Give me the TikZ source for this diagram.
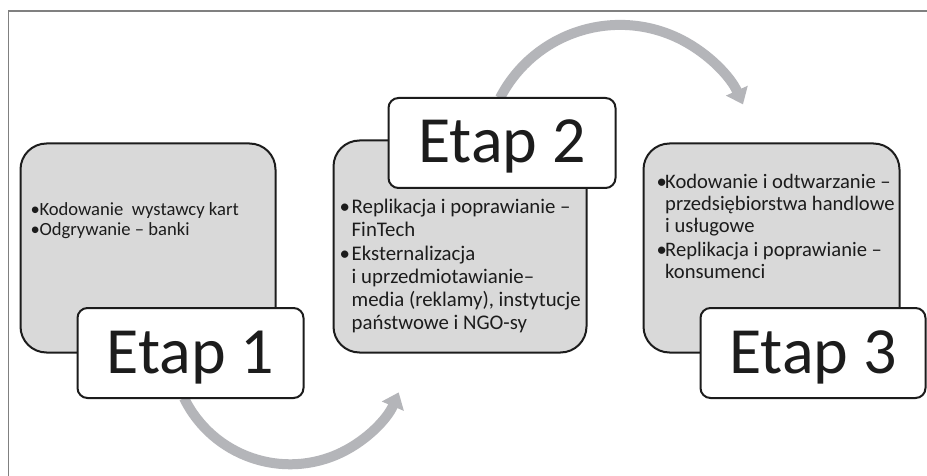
\documentclass[tikz,border=0pt]{standalone}
\usepackage{fontspec}
\setmainfont{Carlito}
\usetikzlibrary{arrows.meta}
\definecolor{boxgray}{RGB}{217,217,217}
\definecolor{arrgray}{RGB}{180,181,185}
\definecolor{framegray}{RGB}{128,128,128}
\definecolor{ink}{RGB}{28,28,28}
\newlength\bulw
\newcommand\bitem[1]{\par\hangindent=\bulw\hangafter=1\noindent\makebox[\bulw][l]{•}#1}
\newcommand\bullblock[4]{\begin{minipage}[t]{260pt}\fontsize{#1}{#2}\selectfont\raggedright\setlength\parskip{#3}\setlength\bulw{#4}}
\begin{document}
\begin{tikzpicture}[x=1pt,y=1pt,
  graybox/.style={draw=ink, line width=2pt, fill=boxgray, rounded corners=26pt, inner sep=0pt},
  etapbox/.style={draw=ink, line width=2pt, fill=white, rounded corners=10pt, inner sep=0pt,
    minimum height=90pt, text=ink, font=\fontsize{66}{70}\selectfont, text height=48pt, text depth=8pt},
  bullettext/.style={anchor=base west, inner sep=0pt, text=ink},
  arrowline/.style={arrgray, line width=10pt, -{Triangle[width=23pt,length=15pt]}}]
\useasboundingbox (0,0) rectangle (927,-476);
\fill[white] (0,0) rectangle (927,-476);
% frame
\draw[framegray, line width=1.5pt] (8.5,-476) -- (8.5,-11) -- (927,-11);
% arrows
\coordinate (a1s) at (184,-398);
\draw[arrowline] (a1s) arc[start angle=-154, end angle=-23, radius=118];
\coordinate (a2s) at (500,-98);
\draw[arrowline] (a2s) arc[start angle=152.7, end angle=24.3, radius=135];
% gray boxes
\node[graybox, minimum width=255pt, minimum height=209pt] (g1) at (148,-248) {};
\node[graybox, minimum width=253pt, minimum height=212pt] (g2) at (460,-246.5) {};
\node[graybox, minimum width=256pt, minimum height=209pt] (g3) at (771.5,-248) {};
% stage boxes
\node[etapbox, minimum width=226pt] (e1) at (190.5,-353) {Etap 1};
\node[etapbox, minimum width=227pt] (e2) at (502,-143) {Etap 2};
\node[etapbox, minimum width=225pt] (e3) at (813,-353) {Etap 3};
% texts
\node[bullettext] (t1) at (30.5,-215) {\bullblock{18.6}{20}{0pt}{8.8pt}%
\bitem{Kodowanie\ \ wystawcy kart}\bitem{Odgrywanie – banki}\end{minipage}};
\node[bullettext] (t2) at (339.5,-214) {\bullblock{20.8}{22.7}{1.6pt}{12pt}%
\bitem{Replikacja i poprawianie –\newline FinTech}\bitem{Eksternalizacja\newline i uprzedmiotawianie–\newline media (reklamy), instytucje\newline państwowe i NGO-sy}\end{minipage}};
\node[bullettext] (t3) at (656.5,-189) {\bullblock{20.6}{22}{2pt}{8.5pt}%
\bitem{Kodowanie i odtwarzanie –\newline przedsiębiorstwa handlowe\newline i usługowe}\bitem{Replikacja i poprawianie –\newline konsumenci}\end{minipage}};
\end{tikzpicture}
\end{document}
